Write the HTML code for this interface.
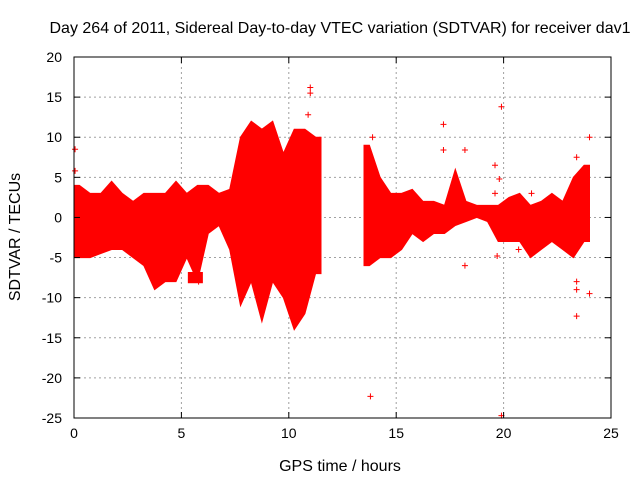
<!DOCTYPE html>
<html><head><meta charset="utf-8"><style>
html,body{margin:0;padding:0;background:#fff;}
svg{display:block;font-family:"Liberation Sans",sans-serif;}
</style></head><body>
<svg id="chart" width="640" height="480">
<text x="340" y="33" font-size="16" text-anchor="middle" fill="#000">Day 264 of 2011, Sidereal Day-to-day VTEC variation (SDTVAR) for receiver dav1</text>
<text x="340" y="471" font-size="16" text-anchor="middle">GPS time / hours</text>
<text x="20" y="237" font-size="16" text-anchor="middle" transform="rotate(-90 20 237)">SDTVAR / TECUs</text>
<g id="grid"></g><g id="marks"></g><g id="axes"></g>
</svg>
<script>
const xTicks=[0,5,10,15,20,25];
const yTicks=[-25,-20,-15,-10,-5,0,5,10,15,20];
const binStart=[0,0.5,1,1.5,2,2.5,3,3.5,4,4.5,5,5.5,6,6.5,7,7.5,8,8.5,9,9.5,10,10.5,11,13.5,14,14.5,15,15.5,16,16.5,17,17.5,18,18.5,19,19.5,20,20.5,21,21.5,22,22.5,23,23.5];
const binMin=[-5,-5,-4.5,-4,-4,-5,-6,-9,-8,-8,-5,-8,-2,-1,-4,-11,-8,-13,-8,-10,-14,-12,-7,-6,-5,-5,-4,-2,-3,-2,-2,-1,-0.5,0,-0.5,-3,-3,-3,-5,-4,-3,-4,-5,-3];
const binMax=[4,3,3,4.5,3,2,3,3,3,4.5,3,4,4,3,3.5,10,12,11,12,8,11,11,10,9,5,3,3,3.5,2,2,1.5,6,2,1.5,1.5,1.5,2.5,3,1.5,2,3,2,5,6.5];
const outX=[0.05,0.05,11,11,10.9,11.3,13.8,13.9,17.2,17.2,18.2,18.2,19.9,19.9,19.7,19.6,19.8,20.7,23.4,23.4,23.4,23.4,24,24,21.3,19.6,5.6,5.8];
const outY=[8.5,5.8,16.2,15.5,12.8,3.5,-22.3,10,11.6,8.4,8.4,-6,13.8,-24.7,-4.8,6.5,4.8,-4,-12.3,-9,-8,7.5,10,-9.5,3,3,-7,-8];
const blockX=[5.3,6.0];
const blockY=[-8.2,-6.8];
const L=74,R=611,T=57,B=418,BW=0.5;
const sx=v=>L+(v-0)/(25-0)*(R-L);
const sy=v=>B-(v+25)/(45)*(B-T);
const NS='http://www.w3.org/2000/svg';
function mk(tag,attrs,parent){const e=document.createElementNS(NS,tag);for(const k in attrs)e.setAttribute(k,attrs[k]);parent.appendChild(e);return e;}
const grid=document.getElementById('grid'),marks=document.getElementById('marks'),axes=document.getElementById('axes');
xTicks.forEach(t=>{const x=sx(t);
 if(t>0&&t<25){const g=mk('line',{x1:x,x2:x,y1:T,y2:B,stroke:'#a0a0a0','stroke-dasharray':'2,3'},grid);
 
 }
 mk('line',{x1:x,x2:x,y1:B,y2:B-6,stroke:'#000'},axes);mk('line',{x1:x,x2:x,y1:T,y2:T+6,stroke:'#000'},axes);
 const tx=mk('text',{x:x,y:B+20,'font-size':14,'text-anchor':'middle'},axes);tx.textContent=t;
 
 });
yTicks.forEach(t=>{const y=sy(t);
 if(t>-25&&t<20){const g=mk('line',{x1:L,x2:R,y1:y,y2:y,stroke:'#a0a0a0','stroke-dasharray':'2,3'},grid);
 
 }
 mk('line',{x1:L,x2:L+6,y1:y,y2:y,stroke:'#000'},axes);mk('line',{x1:R,x2:R-6,y1:y,y2:y,stroke:'#000'},axes);
 const tx=mk('text',{x:L-12,y:y+5,'font-size':14,'text-anchor':'end'},axes);tx.textContent=t;
 
 });
const fr=mk('rect',{x:L,y:T,width:R-L,height:B-T,fill:'none',stroke:'#000'},axes);


const segs=[];let cur=[];
binStart.forEach((s,i)=>{if(cur.length&&Math.abs(binStart[cur[cur.length-1]]+BW-s)>1e-6){segs.push(cur);cur=[];}cur.push(i);});
if(cur.length)segs.push(cur);
segs.forEach(seg=>{
 const top=[],bot=[];
 const f=seg[0],l=seg[seg.length-1];
 top.push([sx(binStart[f]),sy(binMax[f])]);bot.push([sx(binStart[f]),sy(binMin[f])]);
 seg.forEach(i=>{const xc=sx(binStart[i]+BW/2);top.push([xc,sy(binMax[i])]);bot.push([xc,sy(binMin[i])]);});
 top.push([sx(binStart[l]+BW),sy(binMax[l])]);bot.push([sx(binStart[l]+BW),sy(binMin[l])]);
 const pts=top.concat(bot.reverse()).map(p=>p[0].toFixed(1)+','+p[1].toFixed(1)).join(' ');
 const pg=mk('polygon',{points:pts,fill:'#ff0000',stroke:'#ff0000','stroke-width':1},marks);
 
 
});
const blk=mk('rect',{x:sx(blockX[0]),y:sy(blockY[1]),width:sx(blockX[1])-sx(blockX[0]),height:sy(blockY[0])-sy(blockY[1]),fill:'#ff0000'},marks);


outX.forEach((v,i)=>{const x=sx(v),y=sy(outY[i]);
 const p=mk('path',{d:`M${x-3},${y}H${x+3}M${x},${y-3}V${y+3}`,stroke:'#ff0000','stroke-width':1},marks);
 
 });
</script>
</body></html>
